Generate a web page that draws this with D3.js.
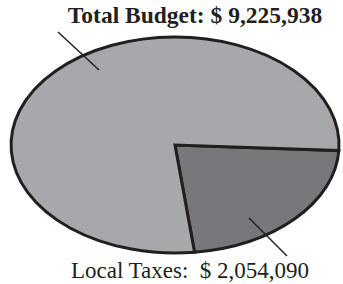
<!DOCTYPE html>
<html>
<head>
<meta charset="utf-8">
<script src="https://cdn.jsdelivr.net/npm/d3@7"></script>
<style>
  body { margin: 0; background: #fff; }
  svg text { font-family: "Liberation Serif", "DejaVu Serif", serif; fill: #231f20; }
</style>
</head>
<body>
<div id="chart"></div>
<script>

// data
let labels = ["Local Taxes", "Other"];
let values = [2054090, 7171848];
let total = d3.sum(values);

let width = 343, height = 284;
let cx = 175, cy = 145, rx = 164, ry = 108;

let fmt = d3.format(",");

let svg = d3.select("#chart")
            .append("svg")
            .attr("width", width)
            .attr("height", height);

// pie, local taxes slice starts a bit below 3 o'clock
let pie = d3.pie()
            .value(d => d)
            .sort(null)
            .startAngle(93 * Math.PI / 180)
            .endAngle(93 * Math.PI / 180 + 2 * Math.PI);

let arc = d3.arc().innerRadius(0).outerRadius(1);

let colors = ["#77787b", "#a7a8ab"];

let g = svg.append("g")
           .attr("transform", `translate(${cx},${cy}) scale(${rx},${ry})`);

g.selectAll("path")
 .data(pie(values))
 .join("path")
 .attr("d", arc)
 .attr("fill", (d, i) => colors[i])
 .attr("stroke", "#231f20")
 .attr("stroke-width", 3)
 .attr("stroke-linejoin", "miter")
 .attr("vector-effect", "non-scaling-stroke");

// leader lines
svg.append("line")
   .attr("x1", 58).attr("y1", 32)
   .attr("x2", 99).attr("y2", 70)
   .attr("stroke", "#231f20").attr("stroke-width", 1.5);

svg.append("line")
   .attr("x1", 249).attr("y1", 218)
   .attr("x2", 287).attr("y2", 256)
   .attr("stroke", "#231f20").attr("stroke-width", 1.5);

// labels
svg.append("text")
   .attr("x", 195).attr("y", 23)
   .attr("text-anchor", "middle")
   .attr("font-weight", "bold")
   .attr("font-size", 23.5)
   .text("Total Budget: $ " + fmt(total));

svg.append("text")
   .attr("x", 190).attr("y", 278)
   .attr("text-anchor", "middle")
   .attr("font-size", 23)
   .attr("xml:space", "preserve")
   .text(labels[0] + ":  $ " + fmt(values[0]));

</script>
</body>
</html>
